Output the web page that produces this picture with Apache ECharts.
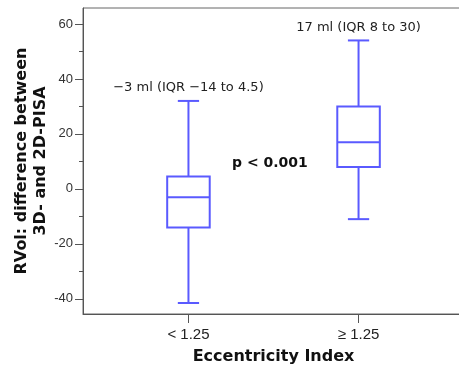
<!DOCTYPE html>
<html>
<head>
<meta charset="UTF-8">
<title>RVol difference by Eccentricity Index</title>
<script src="https://cdn.jsdelivr.net/npm/echarts@6/dist/echarts.min.js"></script>
<style>
  html, body { margin: 0; padding: 0; background: #fff; }
  #chart { width: 459px; height: 372px; }
</style>
</head>
<body>
<div id="chart"></div>
<script>
// groups on the x axis (positions 1 and 2)
const categories = ['< 1.25', '\u2265 1.25'];
// box values: [min, Q1, median, Q3, max]
const lowGroup = [-41.5, -14, -3, 4.5, 32];
const highGroup = [-11, 8, 17, 30, 54];
const notes = ['\u22123 ml (IQR \u221214 to 4.5)', '17 ml (IQR 8 to 30)'];
const yTickLabels = [-40, -20, 0, 20, 40, 60];
const yMinorTicks = [-40, -30, -20, -10, 0, 10, 20, 30, 40, 50, 60];

const boxColor = '#5a5aff';
const boxes = [lowGroup, highGroup].map((b, i) => [i + 1].concat(b));

const chart = echarts.init(document.getElementById('chart'));
chart.setOption({
  animation: false,
  grid: {
    left: 83, top: 8, right: -5, bottom: 58,
    outerBoundsMode: 'none',
    show: true, borderColor: '#666', borderWidth: 1
  },
  xAxis: {
    type: 'value',
    min: 0.38, max: 2.62,
    splitLine: { show: false },
    axisLine: { onZero: false, lineStyle: { color: '#555' } },
    axisTick: { customValues: [1, 2], length: 9, lineStyle: { color: '#555' } },
    axisLabel: {
      customValues: [1, 2],
      margin: 13,
      color: '#222',
      fontFamily: 'Liberation Sans',
      fontSize: 15,
      formatter: v => categories[Math.round(v) - 1]
    },
    name: 'Eccentricity Index',
    nameLocation: 'middle',
    nameGap: 35,
    nameTextStyle: { fontFamily: 'DejaVu Sans', fontWeight: 'bold', fontSize: 16, color: '#111' }
  },
  yAxis: [{
    type: 'value',
    min: -45.5, max: 65.8,
    splitLine: { show: false },
    axisLine: { show: true, onZero: false, lineStyle: { color: '#555' } },
    axisTick: { show: true, customValues: yTickLabels, length: 8, lineStyle: { color: '#555' } },
    axisLabel: {
      customValues: yTickLabels,
      margin: 10,
      color: '#333',
      fontFamily: 'Liberation Sans',
      fontSize: 13
    },
    name: 'RVol: difference between\n3D- and 2D-PISA',
    nameLocation: 'middle',
    nameGap: 33,
    nameMoveOverlap: false,
    nameTextStyle: {
      fontFamily: 'DejaVu Sans', fontWeight: 'bold', fontSize: 16,
      color: '#111', lineHeight: 19, align: 'center'
    }
  }, {
    type: 'value',
    position: 'left',
    min: -45.5, max: 65.8,
    splitLine: { show: false },
    axisLine: { show: false },
    axisLabel: { show: false },
    axisTick: { show: true, customValues: yMinorTicks, length: 4, lineStyle: { color: '#555' } }
  }],
  graphic: [{
    type: 'text',
    left: 232, top: 156,
    style: {
      text: 'p < 0.001',
      font: 'bold 14px "DejaVu Sans"',
      fill: '#111'
    }
  }],
  series: [{
    type: 'custom',
    data: boxes,
    encode: { x: 0, y: [1, 2, 3, 4, 5] },
    renderItem: function (params, api) {
      const x = api.value(0);
      const cx = api.coord([x, 0])[0];
      const py = v => api.coord([x, v])[1];
      const lo = py(api.value(1)), q1 = py(api.value(2)), med = py(api.value(3));
      const q3 = py(api.value(4)), hi = py(api.value(5));
      const bw = api.size([1, 0])[0] * 0.25;
      const cw = bw / 2;
      const line = (x1, y1, x2, y2) => ({
        type: 'line',
        shape: { x1: x1, y1: y1, x2: x2, y2: y2 },
        style: { stroke: boxColor, lineWidth: 2 }
      });
      return {
        type: 'group',
        children: [
          line(cx, hi, cx, q3),
          line(cx, q1, cx, lo),
          line(cx - cw / 2, hi, cx + cw / 2, hi),
          line(cx - cw / 2, lo, cx + cw / 2, lo),
          {
            type: 'rect',
            shape: { x: cx - bw / 2, y: q3, width: bw, height: q1 - q3 },
            style: { fill: '#fff', stroke: boxColor, lineWidth: 2 }
          },
          line(cx - bw / 2, med, cx + bw / 2, med),
          {
            type: 'text',
            x: cx, y: hi - 13,
            style: {
              text: notes[params.dataIndex],
              font: '13px "DejaVu Sans"',
              fill: '#222',
              align: 'center',
              verticalAlign: 'middle'
            }
          }
        ]
      };
    }
  }]
});
</script>
</body>
</html>
